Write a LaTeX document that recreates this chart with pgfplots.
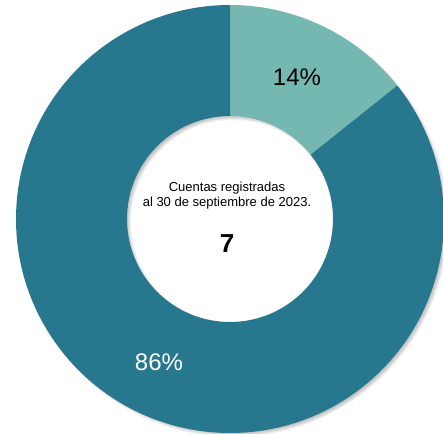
\documentclass[border=0pt]{standalone}
\usepackage{pgfplots}
\pgfplotsset{compat=1.18}
\usepackage{fontspec}
\setmainfont{Liberation Sans}
\definecolor{darkteal}{RGB}{39,120,142}
\definecolor{lightteal}{RGB}{117,184,177}
% values: registered accounts by group
\def\valA{1}\def\valB{6}
\pgfmathsetmacro\valTot{\valA+\valB}
\pgfmathsetmacro\angB{90-360*\valA/\valTot}
\def\RadOut{214bp}\def\RadIn{103bp}
\begin{document}
\begin{tikzpicture}
\begin{axis}[scale only axis, width=443bp, height=434bp,
  xmin=0, xmax=443, ymin=0, ymax=434, hide axis, clip=false]
% soft shadow
\pgfplotsinvokeforeach{0,1,2,3,4}{
  \fill[black, opacity=0.055, even odd rule]
    (axis cs:233,212) circle[radius=211bp+#1bp]
    (axis cs:233,212) circle[radius=106bp-#1bp];
}
% slice 1 (14%)
\fill[lightteal] (axis cs:230,215) ++(90:\RadOut) arc[start angle=90, end angle=\angB, radius=\RadOut]
  -- ++(\angB+180:111bp) arc[start angle=\angB, end angle=90, radius=\RadIn] -- cycle;
% slice 2 (86%)
\fill[darkteal] (axis cs:230,215) ++(\angB:\RadOut) arc[start angle=\angB, end angle=-270, radius=\RadOut]
  -- ++(-90:111bp) arc[start angle=-270, end angle=\angB, radius=\RadIn] -- cycle;
% labels
\node[anchor=base, font=\fontsize{24bp}{28bp}\selectfont] at (axis cs:297,348) {14\%};
\node[anchor=base, text=white, font=\fontsize{24bp}{28bp}\selectfont] at (axis cs:159,63) {86\%};
\node[anchor=base, font=\fontsize{13bp}{15bp}\selectfont] at (axis cs:227,242) {Cuentas registradas};
\node[anchor=base, font=\fontsize{13bp}{15bp}\selectfont] at (axis cs:227,227) {al 30 de septiembre de 2023.};
\node[anchor=base, font=\bfseries\fontsize{26bp}{30bp}\selectfont] at (axis cs:227,181) {7};
\coordinate (ll) at (axis cs:0,0);
\coordinate (ur) at (axis cs:443,434);
\end{axis}
\pgfresetboundingbox
\path (ll) rectangle (ur);
\end{tikzpicture}
\end{document}
